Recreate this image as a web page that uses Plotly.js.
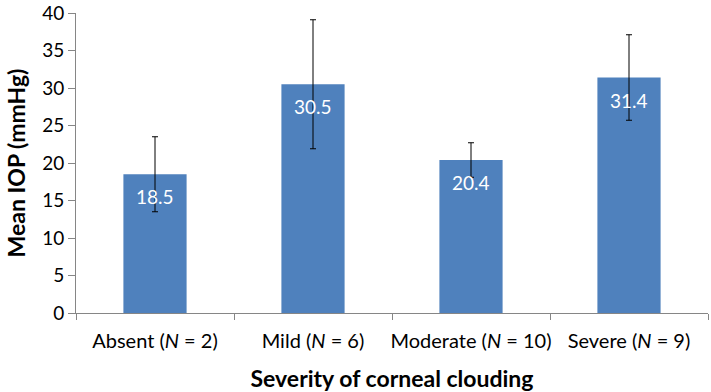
<!DOCTYPE html>
<html><head><meta charset="utf-8">
<script src="https://cdn.plot.ly/plotly-3.0.1.min.js"></script>
<style>html,body{margin:0;padding:0;background:#fff}#chart{width:711px;height:392px}</style>
</head><body><div id="chart"></div>
<script>
const categories = ["Absent (<i>N</i> = 2)", "Mild (<i>N</i> = 6)", "Moderate (<i>N</i> = 10)", "Severe (<i>N</i> = 9)"];
const meanIOP = [18.5, 30.5, 20.4, 31.4];
const errorSD = [5.0, 8.6, 2.3, 5.7];
const yTicks = [0, 5, 10, 15, 20, 25, 30, 35, 40];

const font = "Lato, 'Open Sans', sans-serif";
const axisColor = "#868686";

const trace = {
  type: "bar",
  x: categories,
  y: meanIOP,
  width: 0.4,
  marker: {color: "#4F81BD"},
  error_y: {type: "data", array: errorSD, visible: true, color: "#000000", thickness: 1, width: 3},
  hoverinfo: "none"
};

const annotations = meanIOP.map((v, i) => ({
  x: categories[i], y: v, xref: "x", yref: "y",
  text: v.toFixed(1), showarrow: false,
  yanchor: "top", yshift: -9,
  font: {family: font, size: 19, color: "#ffffff"}
}));

const layout = {
  width: 711, height: 392,
  margin: {l: 76, r: 3, t: 13, b: 79},
  paper_bgcolor: "#ffffff", plot_bgcolor: "#ffffff",
  showlegend: false,
  font: {family: font, size: 18, color: "#000000"},
  xaxis: {
    type: "category",
    showline: true, linecolor: axisColor, linewidth: 1,
    ticks: "outside", tickson: "boundaries", ticklen: 6, tickcolor: axisColor,
    tickangle: 0,
    ticklabelstandoff: 10,
    showgrid: false, zeroline: false,
    tickfont: {family: font, size: 20, color: "#000000"},
    title: {text: "<b>Severity of corneal clouding</b>", font: {family: font, size: 23, color: "#000000"}, standoff: 22}
  },
  yaxis: {
    range: [0, 40],
    tickvals: yTicks,
    showline: true, linecolor: axisColor, linewidth: 1,
    ticks: "outside", ticklen: 7, tickcolor: axisColor,
    showgrid: false, zeroline: false,
    tickfont: {family: font, size: 19, color: "#000000"},
    title: {text: "<b>Mean IOP (mmHg)</b>", font: {family: font, size: 23, color: "#000000"}, standoff: 10}
  },
  annotations: annotations
};

Plotly.newPlot("chart", [trace], layout, {staticPlot: true, displayModeBar: false});
</script></body></html>
